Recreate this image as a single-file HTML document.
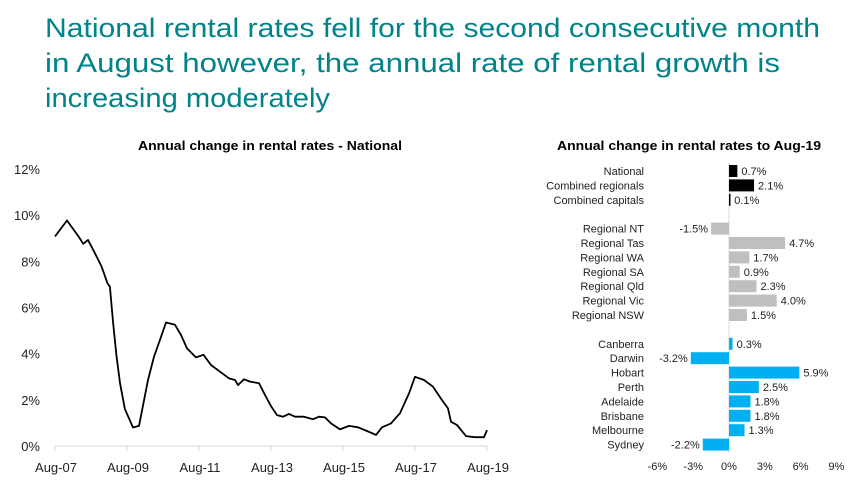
<!DOCTYPE html>
<html><head><meta charset="utf-8"><style>
html,body{margin:0;padding:0;background:#fff;}
svg{display:block;font-family:"Liberation Sans",Arial,sans-serif;}
</style></head><body>
<svg id="root" width="856" height="494" viewBox="0 0 856 494">
<g fill="#00848a" font-size="27">
<text x="45" y="37" textLength="775" lengthAdjust="spacingAndGlyphs">National rental rates fell for the second consecutive month</text>
<text x="45" y="72" textLength="735" lengthAdjust="spacingAndGlyphs">in August however, the annual rate of rental growth is</text>
<text x="45" y="107" textLength="285" lengthAdjust="spacingAndGlyphs">increasing moderately</text>
</g>
<text x="270" y="150" font-size="12.5" font-weight="bold" text-anchor="middle" textLength="264" lengthAdjust="spacingAndGlyphs">Annual change in rental rates - National</text>
<text x="689" y="150" font-size="12.5" font-weight="bold" text-anchor="middle" textLength="264" lengthAdjust="spacingAndGlyphs">Annual change in rental rates to Aug-19</text>
<g id="line-chart"></g>
<g id="bar-chart"></g>
</svg>
<script>
// Line chart data (months since Aug-07, value %)
var lineMonths = [0,4,8,9.4,11,13,15.5,17.5,18.3,19.4,20.5,21.7,23.3,25,26,28,31,33,35,37,40,42,44,47,49.5,52,55,58,60,61,63,65,68,70,72,74,76,78,80,83,86,88,90,92,95,98,101,104,107,109,112,115,118,120,123,126,129,131,132,134,137,140,143,144];
var lineValues = [9.08,9.77,9.05,8.76,8.93,8.43,7.78,7.05,6.9,5.3,3.9,2.7,1.6,1.1,0.8,0.87,2.86,3.87,4.6,5.35,5.25,4.81,4.23,3.84,3.95,3.51,3.22,2.93,2.86,2.64,2.89,2.79,2.72,2.21,1.73,1.34,1.27,1.39,1.27,1.27,1.16,1.27,1.24,0.98,0.72,0.87,0.81,0.65,0.48,0.81,0.98,1.42,2.28,3.0,2.86,2.57,1.99,1.63,1.05,0.91,0.43,0.38,0.38,0.69];
var yTicks = [0,2,4,6,8,10,12];
var xTickLabels = ["Aug-07","Aug-09","Aug-11","Aug-13","Aug-15","Aug-17","Aug-19"];
var xTickMonths = [0,24,48,72,96,120,144];

// Bar chart data
var barCategories = ["National","Combined regionals","Combined capitals","","Regional NT","Regional Tas","Regional WA","Regional SA","Regional Qld","Regional Vic","Regional NSW","","Canberra","Darwin","Hobart","Perth","Adelaide","Brisbane","Melbourne","Sydney"];
var barValues = [0.7,2.1,0.1,null,-1.5,4.7,1.7,0.9,2.3,4.0,1.5,null,0.3,-3.2,5.9,2.5,1.8,1.8,1.3,-2.2];
var barGroups = ["national","national","national","","regional","regional","regional","regional","regional","regional","regional","","capital","capital","capital","capital","capital","capital","capital","capital"];
var barTicks = [-6,-3,0,3,6,9];

var NS = "http://www.w3.org/2000/svg";
function mk(tag, attrs, parent){var e=document.createElementNS(NS,tag);for(var k in attrs)e.setAttribute(k,attrs[k]);parent.appendChild(e);return e;}

(function(){
  var g = document.getElementById('line-chart');
  function xs(m){return 55 + m*(487-55)/144;}
  function ys(v){return 446 - v*(446-169)/12;}
  var ax = mk('line',{x1:xs(0),x2:xs(144),y1:ys(0),y2:ys(0),stroke:'#d9d9d9','stroke-width':1},g);
  
  
  yTicks.forEach(function(t){
    var tx = mk('text',{x:40,y:ys(t)+5,'font-size':13,'text-anchor':'end',fill:'#222'},g);
    tx.textContent = t+'%';
    
    
  });
  xTickMonths.forEach(function(m,i){
    var tk = mk('line',{x1:xs(m),x2:xs(m),y1:446,y2:451,stroke:'#d9d9d9'},g);
    
    
    var tx = mk('text',{x:xs(m)+1,y:472,'font-size':13,'text-anchor':'middle',fill:'#222'},g);
    tx.textContent = xTickLabels[i];
    
    
  });
  var d = lineMonths.map(function(m,i){return (i?'L':'M')+xs(m).toFixed(1)+','+ys(lineValues[i]).toFixed(1);}).join(' ');
  var p = mk('path',{d:d,fill:'none',stroke:'#000','stroke-width':1.8,'stroke-linejoin':'round'},g);
  
  
})();

(function(){
  var g = document.getElementById('bar-chart');
  function xs(v){return 729 + v*11.93;}
  function ys(i){return 171 + i*14.4;}
  var colors = {national:'#000',regional:'#bfbfbf',capital:'#00b0f0'};
  var ax = mk('line',{x1:729,x2:729,y1:163,y2:453,stroke:'#d9d9d9'},g);
  
  
  barCategories.forEach(function(c,i){
    var v = barValues[i];
    if(v===null) return;
    var y = ys(i);
    var lab = mk('text',{x:644,y:y+4,'font-size':11,'text-anchor':'end',fill:'#222'},g);
    lab.textContent = c;
    
    
    var x0 = Math.min(xs(0),xs(v)), w = Math.abs(xs(v)-xs(0));
    var r = mk('rect',{x:x0,y:y-6,width:Math.max(w,1.5),height:12,fill:colors[barGroups[i]]},g);
    
    
    var vt = mk('text',{x:v>=0? xs(v)+4 : xs(v)-3,y:y+4,'font-size':11,'text-anchor':v>=0?'start':'end',fill:'#222'},g);
    vt.textContent = v.toFixed(1)+'%';
    
    
  });
  barTicks.forEach(function(t){
    var tx = mk('text',{x:xs(t),y:470,'font-size':11,'text-anchor':'middle',fill:'#222'},g);
    tx.textContent = t+'%';
    
    
  });
})();
</script>
</body></html>
